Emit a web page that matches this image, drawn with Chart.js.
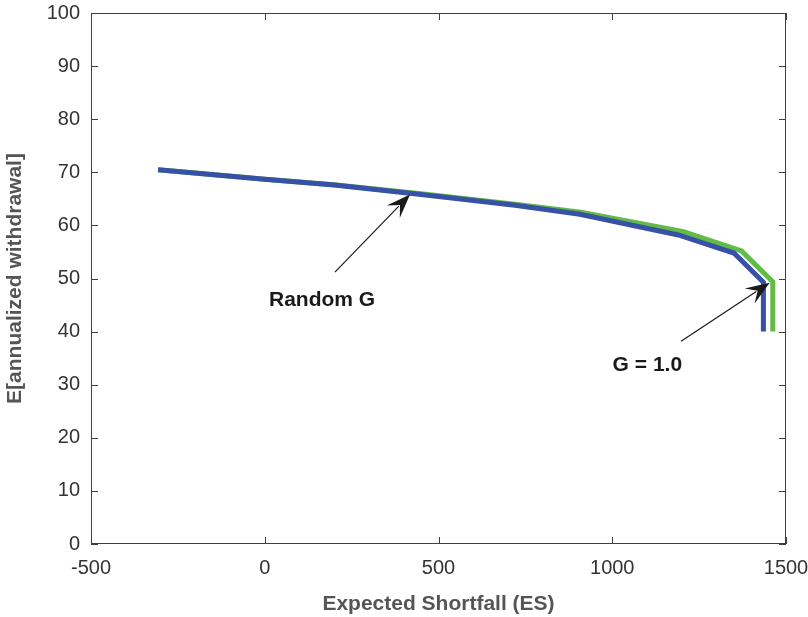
<!DOCTYPE html>
<html>
<head>
<meta charset="utf-8">
<script src="https://cdn.jsdelivr.net/npm/chart.js@4/dist/chart.umd.min.js"></script>
<style>
  html, body { margin: 0; padding: 0; background: #fff; }
  #wrap { width: 808px; height: 617px; }
</style>
</head>
<body>
<div id="wrap"><canvas id="chart"></canvas></div>
<script>
// frontier values
const esBlue = [-307, 0, 200, 450, 720, 907, 1190, 1350, 1435, 1435];
const wdBlue = [70.5, 68.7, 67.6, 65.8, 63.8, 62.1, 58.2, 54.8, 49.3, 40];
const esGreen = [-307, 0, 200, 450, 720, 910, 1205, 1372, 1462, 1462];
const wdGreen = [70.5, 68.7, 67.65, 65.95, 64.0, 62.5, 58.8, 55.2, 49.4, 40];

const xTicks = [-500, 0, 500, 1000, 1500];
const yTicks = [0, 10, 20, 30, 40, 50, 60, 70, 80, 90, 100];

// annotations: label text, label position, arrow tail, arrow head (data units)
const notes = [
  { text: 'Random G', at: [165, 46], from: [202, 51.2], to: [418, 65.8] },
  { text: 'G = 1.0', at: [1101, 33.6], from: [1198, 38.2], to: [1453, 49.2] }
];

const toPoints = (xs, ys) => xs.map((x, i) => ({ x: x, y: ys[i] }));

const FONT = '"Liberation Sans", Arial, Helvetica, sans-serif';

// matlab-like box with inward ticks
const boxPlugin = {
  id: 'box',
  afterDatasetsDraw(chart) {
    const { ctx, chartArea: a, scales } = chart;
    ctx.save();
    ctx.strokeStyle = '#404040';
    ctx.lineWidth = 1;
    ctx.strokeRect(a.left + 0.5, a.top + 0.5, a.right - a.left - 1, a.bottom - a.top - 1);
    const tl = 7;
    ctx.beginPath();
    xTicks.forEach(v => {
      const px = Math.round(scales.x.getPixelForValue(v)) + 0.5;
      ctx.moveTo(px, a.bottom); ctx.lineTo(px, a.bottom - tl);
      ctx.moveTo(px, a.top); ctx.lineTo(px, a.top + tl);
    });
    yTicks.forEach(v => {
      const py = Math.round(scales.y.getPixelForValue(v)) + 0.5;
      ctx.moveTo(a.left, py); ctx.lineTo(a.left + tl, py);
      ctx.moveTo(a.right, py); ctx.lineTo(a.right - tl, py);
    });
    ctx.stroke();

    // arrows + labels
    notes.forEach(n => {
      const x0 = scales.x.getPixelForValue(n.from[0]);
      const y0 = scales.y.getPixelForValue(n.from[1]);
      const x1 = scales.x.getPixelForValue(n.to[0]);
      const y1 = scales.y.getPixelForValue(n.to[1]);
      const ang = Math.atan2(y1 - y0, x1 - x0);
      const len = 24, wid = 9;
      const bx = x1 - len * Math.cos(ang), by = y1 - len * Math.sin(ang);
      ctx.strokeStyle = '#1a1a1a';
      ctx.fillStyle = '#1a1a1a';
      ctx.lineWidth = 1.2;
      ctx.beginPath();
      ctx.moveTo(x0, y0); ctx.lineTo(bx + 8 * Math.cos(ang), by + 8 * Math.sin(ang));
      ctx.stroke();
      ctx.beginPath();
      ctx.moveTo(x1, y1);
      ctx.lineTo(bx - wid * Math.sin(ang), by + wid * Math.cos(ang));
      ctx.lineTo(x1 - 0.6 * len * Math.cos(ang), y1 - 0.6 * len * Math.sin(ang));
      ctx.lineTo(bx + wid * Math.sin(ang), by - wid * Math.cos(ang));
      ctx.closePath();
      ctx.fill();

      ctx.font = 'bold 21px ' + FONT;
      ctx.textAlign = 'center';
      ctx.textBaseline = 'middle';
      ctx.fillText(n.text, scales.x.getPixelForValue(n.at[0]), scales.y.getPixelForValue(n.at[1]));
    });
    ctx.restore();
  }
};

new Chart(document.getElementById('chart'), {
  type: 'scatter',
  data: {
    datasets: [
      {
        label: 'Random G',
        data: toPoints(esBlue, wdBlue),
        showLine: true,
        borderColor: '#3651a5',
        borderWidth: 5,
        pointRadius: 0,
        fill: false
      },
      {
        label: 'G = 1.0',
        data: toPoints(esGreen, wdGreen),
        showLine: true,
        borderColor: '#62bb46',
        borderWidth: 5,
        pointRadius: 0,
        fill: false
      }
    ]
  },
  options: {
    responsive: true,
    maintainAspectRatio: false,
    animation: false,
    layout: { padding: { top: 13, right: 22, left: 0, bottom: 0 } },
    plugins: {
      legend: { display: false },
      tooltip: { enabled: false }
    },
    scales: {
      x: {
        type: 'linear',
        min: -500,
        max: 1500,
        afterBuildTicks: s => { s.ticks = xTicks.map(v => ({ value: v })); },
        afterFit: s => { s.height = 73; s.paddingLeft = 0; s.paddingRight = 0; },
        grid: { display: false, drawTicks: false },
        border: { display: false },
        ticks: {
          padding: 12,
          color: '#333',
          font: { family: FONT, size: 20 },
          callback: v => String(v)
        },
        title: {
          display: true,
          text: 'Expected Shortfall (ES)',
          color: '#555',
          font: { family: FONT, size: 21, weight: 'bold' },
          padding: { top: 0, bottom: 0 }
        }
      },
      y: {
        min: 0,
        max: 100,
        afterBuildTicks: s => { s.ticks = yTicks.map(v => ({ value: v })); },
        afterFit: s => { s.width = 91; s.paddingTop = 0; s.paddingBottom = 0; },
        grid: { display: false, drawTicks: false },
        border: { display: false },
        ticks: {
          padding: 11,
          color: '#333',
          font: { family: FONT, size: 20 },
          callback: v => String(v)
        },
        title: {
          display: true,
          text: 'E[annualized withdrawal]',
          color: '#555',
          font: { family: FONT, size: 21, weight: 'bold' },
          padding: { top: 3, bottom: 0 }
        }
      }
    }
  },
  plugins: [boxPlugin]
});
</script>
</body>
</html>
